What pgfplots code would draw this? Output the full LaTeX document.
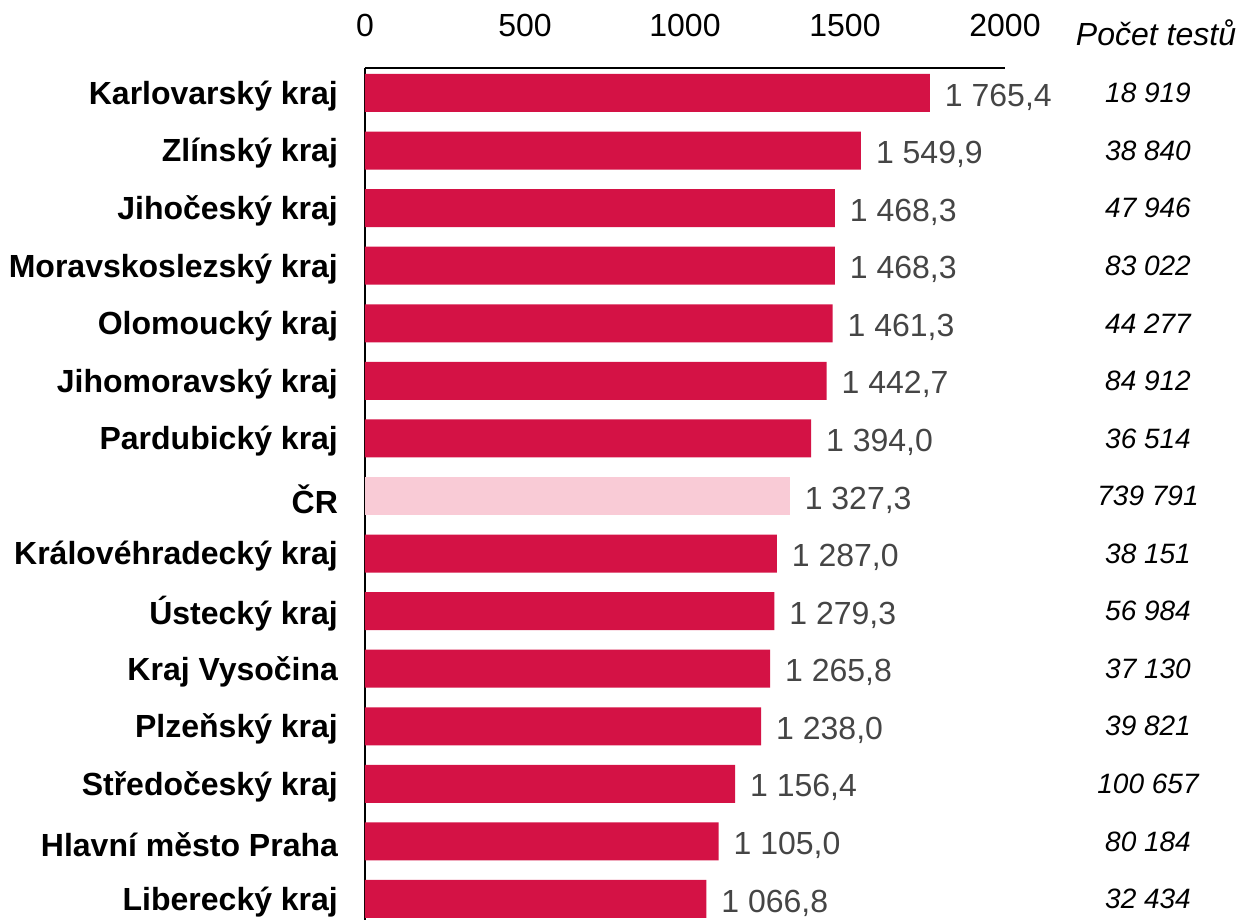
\documentclass[border=0pt]{standalone}
\usepackage{pgfplots}
\usepackage{pgfplotstable}
\usepackage{fontspec}
\setmainfont{Liberation Sans}
\pgfplotsset{compat=1.18}
\definecolor{barred}{HTML}{D41245}
\definecolor{barpink}{HTML}{F9CBD6}
\definecolor{labgray}{HTML}{454545}

\pgfplotstableread[col sep=semicolon]{
y;v;lab
0;1765.4;1 765,4
1;1549.9;1 549,9
2;1468.3;1 468,3
3;1468.3;1 468,3
4;1461.3;1 461,3
5;1442.7;1 442,7
6;1394.0;1 394,0
8;1287.0;1 287,0
9;1279.3;1 279,3
10;1265.8;1 265,8
11;1238.0;1 238,0
12;1156.4;1 156,4
13;1105.0;1 105,0
14;1066.8;1 066,8
}\regions

\pgfplotstableread[col sep=semicolon]{
y;v;lab
7;1327.3;1 327,3
}\cr

\pgfplotstableread[col sep=semicolon]{
y;x;n
0;2447;18 919
1;2447;38 840
2;2447;47 946
3;2447;83 022
4;2447;44 277
5;2447;84 912
6;2447;36 514
7;2447;739 791
8;2447;38 151
9;2447;56 984
10;2447;37 130
11;2447;39 821
12;2447;100 657
13;2447;80 184
14;2447;32 434
}\tests

\begin{document}
\begin{tikzpicture}
\begin{axis}[
  at={(182.5pt,0pt)}, anchor=south west,
  scale only axis,
  width=320pt, height=426pt,
  xmin=0, xmax=2000,
  ymin=-0.434, ymax=14.365,
  y dir=reverse,
  clip=false,
  axis x line*=top,
  axis y line*=left,
  axis line style={-, black, line width=0.8pt},
  xtick={0,500,1000,1500,2000},
  xticklabel pos=upper,
  major tick length=0pt,
  /pgf/number format/1000 sep={},
  /pgf/number format/assume math mode=true,
  xticklabel style={font=\fontsize{16}{18}\selectfont, yshift=12pt},
  ytick={0,...,14},
  yticklabels={Karlovarský kraj, Zlínský kraj, Jihočeský kraj, Moravskoslezský kraj, Olomoucký kraj, Jihomoravský kraj, Pardubický kraj, ČR, Královéhradecký kraj, Ústecký kraj, Kraj Vysočina, Plzeňský kraj, Středočeský kraj, Hlavní město Praha, Liberecký kraj},
  yticklabel style={font=\fontsize{16}{18}\selectfont\bfseries, xshift=-10pt, yshift=-1.5pt},
  point meta=explicit symbolic,
]
\addplot[xbar, bar width=19pt, bar shift=0pt, fill=barred, draw=none,
  nodes near coords,
  every node near coord/.style={anchor=west, font=\fontsize{16}{18}\selectfont, text=labgray, xshift=4pt, yshift=-2pt}]
  table[x=v, y=y, meta=lab] {\regions};
\addplot[xbar, bar width=19pt, bar shift=0pt, fill=barpink, draw=none,
  nodes near coords,
  every node near coord/.style={anchor=west, font=\fontsize{16}{18}\selectfont, text=labgray, xshift=4pt, yshift=-2pt}]
  table[x=v, y=y, meta=lab] {\cr};
\addplot[draw=none, mark=none, nodes near coords,
  every node near coord/.style={anchor=center, font=\fontsize{14}{16}\selectfont\itshape, text=black}]
  table[x=x, y=y, meta=n] {\tests};
\node[font=\fontsize{16}{18}\selectfont\itshape] at (axis cs:2472,-1.05) {Počet testů};
\end{axis}
\pgfresetboundingbox
\useasboundingbox (0,0) rectangle (619.5pt,460pt);
\end{tikzpicture}
\end{document}
